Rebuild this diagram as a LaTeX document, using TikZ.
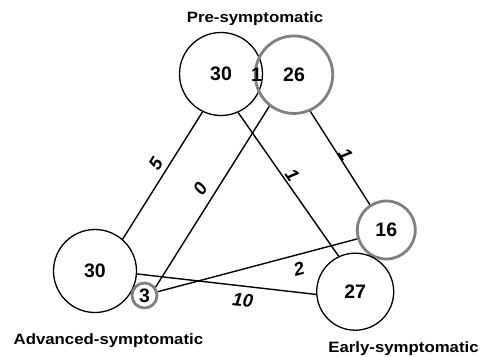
\documentclass[tikz,border=0pt]{standalone}
\usepackage{fontspec}
\setmainfont{Liberation Sans}
\definecolor{ringgray}{RGB}{128,128,128}
\tikzset{
  num/.style={font=\fontsize{19.5}{21}\selectfont\bfseries},
  plain/.style={num,circle,draw=black,line width=1.3pt,inner sep=0pt},
  ring/.style={num,circle,draw=ringgray,line width=2.8pt,inner sep=0pt},
  link/.style={line width=1.4pt},
  count/.style={sloped,inner sep=0pt,font=\fontsize{18.5}{20}\selectfont\bfseries\itshape},
  stage/.style={inner sep=0pt,anchor=base,font=\fontsize{15}{17}\selectfont\bfseries}
}
\newcommand{\stagetext}[1]{\scalebox{1.12}[1]{#1}}
\begin{document}
\begin{tikzpicture}[x=1pt,y=1pt]
\useasboundingbox (0,0) rectangle (481,-356);

\node[plain,minimum size=83pt] (pre) at (221,-74) {30};
\node[ring,minimum size=77.5pt] (prex) at (294,-74.7) {26};
\node[num] (both) at (256.5,-75) {1};
\node[plain,minimum size=83pt] (adv) at (95,-271) {30};
\node[ring,minimum size=25pt] (advx) at (144.5,-295.5) {3};
\node[ring,minimum size=58pt] (earlyx) at (386.3,-230) {16};
\node[plain,minimum size=77pt] (early) at (355.2,-291.7) {27};

\node[stage] (tpre) at (255,-22) {\stagetext{Pre-symptomatic}};
\node[stage] (tadv) at (108.4,-344) {\stagetext{Advanced-symptomatic}};
\node[stage] (tearly) at (403.5,-352.5) {\stagetext{Early-symptomatic}};

\draw[link] (pre.244.4) -- node[count,pos=0.46,above=4.5pt] {5} (adv.49.1);
\draw[link] (prex.232.1) -- node[count,pos=0.5,above=7.2pt] {0} (advx.37.3);
\draw[link] (pre.-66) -- node[count,pos=0.47,above=1.4pt] {1} (early.115.3);
\draw[link] (prex.-66.4) -- node[count,pos=0.5,above=-0.6pt] {1} (earlyx.123.5);
\draw[link] (advx.16.2) -- node[count,pos=0.69,below=6.7pt] {2} (earlyx.197);
\draw[link] (adv.-4) -- node[count,pos=0.6,below=6.8pt] {10} (early.184.3);
\end{tikzpicture}
\end{document}
